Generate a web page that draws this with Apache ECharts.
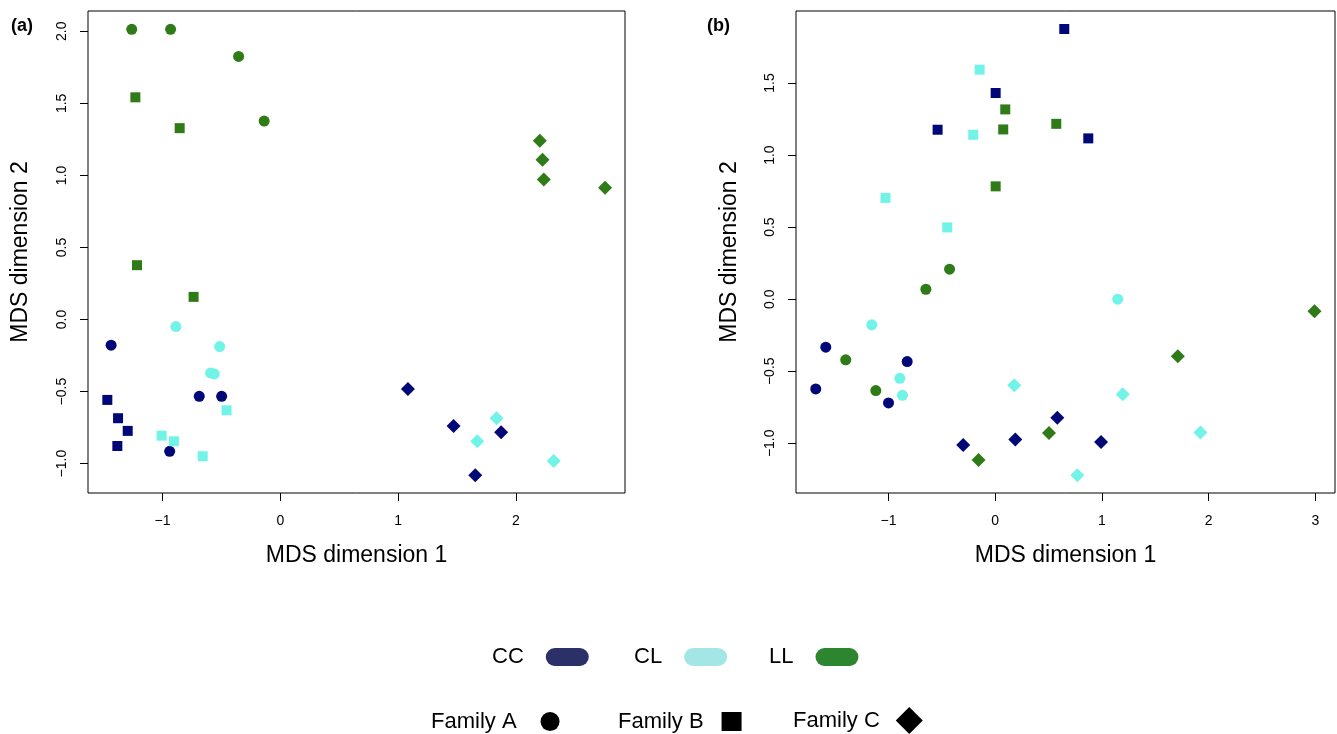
<!DOCTYPE html>
<html>
<head>
<meta charset="utf-8">
<title>MDS</title>
<script src="https://cdn.jsdelivr.net/npm/echarts@6/dist/echarts.min.js"></script>
<style>
html,body{margin:0;padding:0;background:#fff;}
#chart{width:1337px;height:734px;}
</style>
</head>
<body>
<div id="chart"></div>
<script>
// rows are [dim1, dim2, family]
var groups = ['CC', 'CL', 'LL'];
var families = ['Family A', 'Family B', 'Family C'];

var panelA_CC = [
	[-1.436, -0.178, 'A'], [-0.688, -0.533, 'A'], [-0.498, -0.533, 'A'], [-0.939, -0.915, 'A'],
	[-1.468, -0.558, 'B'], [-1.377, -0.685, 'B'], [-1.295, -0.773, 'B'], [-1.383, -0.878, 'B'],
	[1.083, -0.482, 'C'], [1.470, -0.739, 'C'], [1.874, -0.783, 'C'], [1.654, -1.081, 'C']
];
var panelA_CL = [
	[-0.886, -0.049, 'A'], [-0.515, -0.188, 'A'], [-0.592, -0.371, 'A'], [-0.561, -0.378, 'A'],
	[-1.007, -0.806, 'B'], [-0.903, -0.845, 'B'], [-0.659, -0.949, 'B'], [-0.456, -0.630, 'B'],
	[1.835, -0.685, 'C'], [1.671, -0.845, 'C'], [2.320, -0.982, 'C']
];
var panelA_LL = [
	[-1.261, 2.014, 'A'], [-0.931, 2.014, 'A'], [-0.354, 1.826, 'A'], [-0.137, 1.377, 'A'],
	[-1.230, 1.542, 'B'], [-0.854, 1.328, 'B'], [-1.216, 0.377, 'B'], [-0.736, 0.157, 'B'],
	[2.202, 1.240, 'C'], [2.225, 1.108, 'C'], [2.236, 0.972, 'C'], [2.756, 0.914, 'C']
];

var panelB_CC = [
	[-1.588, -0.333, 'A'], [-0.825, -0.433, 'A'], [-1.682, -0.623, 'A'], [-1.000, -0.720, 'A'],
	[0.004, 1.431, 'B'], [-0.540, 1.176, 'B'], [0.647, 1.875, 'B'], [0.872, 1.116, 'B'],
	[0.188, -0.974, 'C'], [-0.300, -1.012, 'C'], [0.582, -0.822, 'C'], [0.992, -0.991, 'C']
];
var panelB_CL = [
	[-1.157, -0.178, 'A'], [-0.894, -0.549, 'A'], [-0.869, -0.667, 'A'], [1.148, 0.000, 'A'],
	[-0.146, 1.593, 'B'], [-0.206, 1.141, 'B'], [-1.028, 0.703, 'B'], [-0.450, 0.498, 'B'],
	[0.178, -0.597, 'C'], [1.195, -0.660, 'C'], [1.923, -0.926, 'C'], [0.769, -1.222, 'C']
];
var panelB_LL = [
	[-0.428, 0.208, 'A'], [-0.650, 0.069, 'A'], [-1.401, -0.421, 'A'], [-1.119, -0.634, 'A'],
	[0.094, 1.317, 'B'], [0.075, 1.178, 'B'], [0.004, 0.783, 'B'], [0.572, 1.217, 'B'],
	[-0.156, -1.116, 'C'], [2.992, -0.083, 'C'], [1.711, -0.396, 'C'], [0.504, -0.928, 'C']
];

var xTicksA = [-1, 0, 1, 2];
var yTicksA = [-1, -0.5, 0, 0.5, 1, 1.5, 2];
var xTicksB = [-1, 0, 1, 2, 3];
var yTicksB = [-1, -0.5, 0, 0.5, 1, 1.5];

var pointColors = {CC: '#000877', CL: '#71f3e8', LL: '#2e7b17'};
var legendColors = {CC: '#2b3068', CL: '#a4e5e5', LL: '#2e8530'};
var shapes = {A: 'circle', B: 'rect', C: 'diamond'};
var sizes = {A: 11, B: 10, C: 14};

var FONT = '"Liberation Sans", Arial, Helvetica, sans-serif';
var pill = 'path://M9,0 L34,0 A9,9 0 0 1 34,18 L9,18 A9,9 0 0 1 9,0 Z';

function minus(s){
	return String(s).replace('-', '\u2212');
}

function makeX(idx, min, max, ticks){
	return {
		gridIndex: idx, type: 'value', min: min, max: max, position: 'bottom',
		name: 'MDS dimension 1', nameLocation: 'middle', nameGap: 51,
		nameTextStyle: {color: '#000', fontSize: 23, fontFamily: FONT},
		axisLine: {show: false, onZero: false},
		splitLine: {show: false},
		axisTick: {show: true, inside: false, length: 8, customValues: ticks, lineStyle: {color: '#000'}},
		axisLabel: {
			customValues: ticks, color: '#000', fontSize: 14, fontFamily: FONT, margin: 21,
			formatter: function(v){ return minus(v); }
		}
	};
}

function makeY(idx, min, max, ticks, gap){
	return {
		gridIndex: idx, type: 'value', min: min, max: max, position: 'left',
		name: 'MDS dimension 2', nameLocation: 'middle', nameGap: gap,
		nameTextStyle: {color: '#000', fontSize: 23, fontFamily: FONT},
		axisLine: {show: false, onZero: false},
		splitLine: {show: false},
		axisTick: {show: true, inside: false, length: 8, customValues: ticks, lineStyle: {color: '#000'}},
		axisLabel: {
			customValues: ticks, color: '#000', fontSize: 14, fontFamily: FONT, margin: 19, rotate: 90,
			formatter: function(v){ return minus(v.toFixed(1)); }
		}
	};
}

function makeSeries(name, rows, idx){
	return {
		type: 'scatter', name: name,
		xAxisIndex: idx, yAxisIndex: idx,
		itemStyle: {color: pointColors[name], opacity: 1},
		emphasis: {disabled: true},
		data: rows.map(function(r){
			return {value: [r[0], r[1]], symbol: shapes[r[2]], symbolSize: sizes[r[2]]};
		})
	};
}

var series = [
	makeSeries('CC', panelA_CC, 0), makeSeries('CL', panelA_CL, 0), makeSeries('LL', panelA_LL, 0),
	makeSeries('CC', panelB_CC, 1), makeSeries('CL', panelB_CL, 1), makeSeries('LL', panelB_LL, 1)
];
// empty series only so the shape legend has something to point at
families.forEach(function(f, i){
	series.push({type: 'scatter', name: f, symbol: ['circle', 'rect', 'diamond'][i], itemStyle: {color: '#000', opacity: 1}, data: []});
});

// legend boxes, one per entry
var legends = [];
var groupLeft = [492, 634, 769];
groups.forEach(function(g, i){
	legends.push({
		left: groupLeft[i], top: 646, padding: 0, align: 'right', selectedMode: false,
		itemWidth: 43, itemHeight: 18, icon: pill,
		textStyle: {color: '#000', fontSize: 22, fontFamily: FONT, padding: [0, 17, 0, 0]},
		data: [{name: g, itemStyle: {color: legendColors[g], opacity: 1, borderWidth: 0}}]
	});
});
var famLeft = [431, 618, 793];
var famTop = [710.5, 710.5, 707];
var famW = [19, 20, 27];
var famH = [19, 19, 27];
var famPad = [19, 13, 11];
families.forEach(function(f, i){
	legends.push({
		left: famLeft[i], top: famTop[i], padding: 0, align: 'right', selectedMode: false,
		itemWidth: famW[i], itemHeight: famH[i], icon: ['circle', 'rect', 'diamond'][i],
		itemStyle: {color: '#000', opacity: 1, borderWidth: 0},
		textStyle: {color: '#000', fontSize: 22, fontFamily: FONT, padding: [0, famPad[i], 0, 0]},
		data: [{name: f, itemStyle: {color: '#000', opacity: 1, borderWidth: 0}}]
	});
});

var myChart = echarts.init(document.getElementById('chart'), null, {renderer: 'canvas'});
var option = {
	animation: false,
	backgroundColor: '#fff',
	title: [
		{text: '(a)', left: 11, top: 17, padding: 0, textStyle: {fontSize: 18, fontWeight: 'bold', color: '#000', fontFamily: FONT}},
		{text: '(b)', left: 707, top: 17, padding: 0, textStyle: {fontSize: 18, fontWeight: 'bold', color: '#000', fontFamily: FONT}}
	],
	grid: [
		{left: 88, top: 11, width: 537, height: 482, show: true, borderColor: '#000', borderWidth: 1, backgroundColor: 'transparent'},
		{left: 796, top: 11, width: 539, height: 482, show: true, borderColor: '#000', borderWidth: 1, backgroundColor: 'transparent'}
	],
	xAxis: [makeX(0, -1.632, 2.925, xTicksA), makeX(1, -1.867, 3.184, xTicksB)],
	yAxis: [makeY(0, -1.204, 2.141, yTicksA, 56), makeY(1, -1.345, 2.0, yTicksB, 55)],
	legend: legends,
	series: series
};
myChart.setOption(option);
</script>
</body>
</html>
